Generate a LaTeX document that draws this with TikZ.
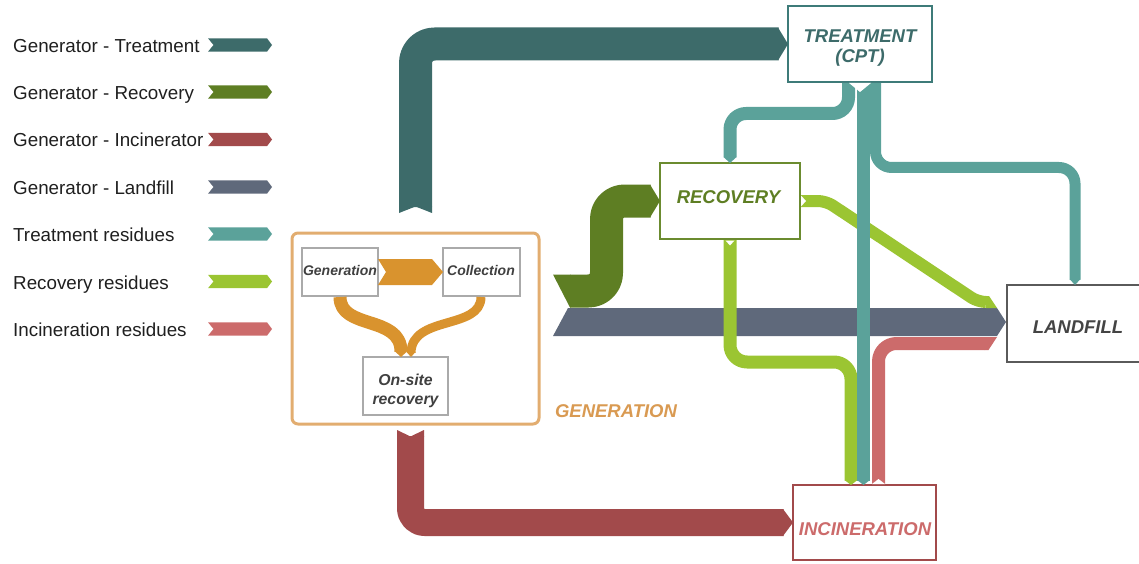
\documentclass[tikz,border=0pt]{standalone}
\usepackage{fontspec}
\setmainfont{Liberation Sans}
\definecolor{cGT}{HTML}{3D6B6A}
\definecolor{cGR}{HTML}{5E7E23}
\definecolor{cGI}{HTML}{A24A4B}
\definecolor{cGL}{HTML}{5F697B}
\definecolor{cTR}{HTML}{5BA29A}
\definecolor{cRR}{HTML}{9BC532}
\definecolor{cIR}{HTML}{CC6B6B}
\definecolor{cOR}{HTML}{D9932E}
\definecolor{cGenBox}{HTML}{E2AD70}
\definecolor{cGenTxt}{HTML}{D99A52}
\definecolor{cTreatBox}{HTML}{3E7B79}
\definecolor{cRecBox}{HTML}{6B8B2F}
\definecolor{cLandBox}{HTML}{5A5A5A}
\definecolor{cLandTxt}{HTML}{444444}
\definecolor{cGray}{HTML}{AAAAAA}
\definecolor{cDark}{HTML}{404040}
\tikzset{
  lgtext/.style={anchor=base west, font=\fontsize{18.8}{22}\selectfont, text=black!88, inner sep=0pt},
  bigbox/.style={draw, line width=2pt, fill=white, inner sep=0pt, outer sep=0pt},
  smallbox/.style={draw=cGray, line width=1.5pt, fill=white, inner sep=0pt, outer sep=0pt},
  boxlabel/.style={font=\fontsize{18.5}{20}\selectfont\bfseries\itshape, inner sep=0pt, align=center},
  smalllabel/.style={font=\fontsize{14}{16}\selectfont\bfseries\itshape, text=cDark, inner sep=0pt, anchor=base},
  band/.style={line cap=butt, line join=round},
}
\begin{document}
\begin{tikzpicture}[x=1pt,y=-1pt]
\useasboundingbox (0,0) rectangle (1139,564);

% legend
\foreach \yc/\col/\txt [count=\i] in {45/cGT/{Generator - Treatment}, 92/cGR/{Generator - Recovery}, 139.5/cGI/{Generator - Incinerator}, 187/cGL/{Generator - Landfill}, 234/cTR/{Treatment residues}, 281.5/cRR/{Recovery residues}, 329/cIR/{Incineration residues}}{
  \node[lgtext] (lgt\i) at (13,\yc+7.5) {\txt};
  \fill[\col] (208,\yc-6.7) -- (267,\yc-6.7) -- (272,\yc) -- (267,\yc+6.7) -- (208,\yc+6.7) -- (213.5,\yc) -- cycle;
}

% boxes
\node[bigbox, draw=cTreatBox, minimum width=144pt, minimum height=76pt] (treat) at (860,44) {};
\node[bigbox, draw=cRecBox, minimum width=140pt, minimum height=76pt] (rec) at (730,201) {};
\node[bigbox, draw=cLandBox, minimum width=142pt, minimum height=77pt] (land) at (1078,323.5) {};
\node[bigbox, draw=cGI, minimum width=143pt, minimum height=75pt] (inc) at (864.5,522.5) {};
\node[draw=cGenBox, line width=3pt, rounded corners=6pt, minimum width=247pt, minimum height=191pt, inner sep=0pt, outer sep=0pt] (genbox) at (415.5,328.5) {};
\node[smallbox, minimum width=76pt, minimum height=48pt] (genbx) at (340,272) {};
\node[smallbox, minimum width=77pt, minimum height=48pt] (colbx) at (481.5,272) {};
\node[smallbox, minimum width=85pt, minimum height=58pt] (onsite) at (405.5,386) {};

% Generator - Landfill
\fill[cGL] (553,336) -- (568,308) -- (997,308) -- (1006,322) -- (997,336) -- cycle;

% Generator - Treatment
\draw[band, cGT, line width=33pt, rounded corners=19pt] (415.5,207) -- (415.5,44) -- (778.5,44);
\fill[cGT] (778,27.5) -- (treat.west) -- (778,60.5) -- cycle;
\fill[cGT] (399,213) -- (415.5,206.5) -- (399,206.5) -- cycle;
\fill[cGT] (432,213) -- (415.5,206.5) -- (432,206.5) -- cycle;

% Generator - Recovery
\draw[band, cGR, line width=33pt, rounded corners=18pt] (570,291) -- (606.5,291) -- (606.5,201) -- (650.5,201);
\fill[cGR] (553,274.5) -- (570.5,274.5) -- (570.5,307.5) -- (570,307.5) -- cycle;
\fill[cGR] (650,184.5) -- (rec.west) -- (650,217.5) -- cycle;

% Generator - Incinerator
\draw[band, cGI, line width=27pt, rounded corners=14pt] (410.5,436) -- (410.5,522.5) -- (783.5,522.5);
\fill[cGI] (397,430) -- (410.5,436.5) -- (397,436.5) -- cycle;
\fill[cGI] (424,430) -- (410.5,436.5) -- (424,436.5) -- cycle;
\fill[cGI] (783,509) -- (inc.west) -- (783,536) -- cycle;

% Recovery residues
\draw[band, cRR, line width=13pt, rounded corners=17pt] (730,240) -- (730,362) -- (851,362) -- (851,480.5);
\fill[cRR] (844.5,480) -- (851,485) -- (857.5,480) -- cycle;
\draw[band, cRR, line width=12pt, rounded corners=8pt] (801,201) -- (826,201) -- (978,302) -- (986,302);
\fill[cRR] (985.5,296) -- (989,296) -- (997,308) -- (985.5,308) -- cycle;
\fill[white] (725.5,240.5) -- (734.5,240.5) -- (730,245.5) -- cycle;
\fill[white] (801,195.5) -- (806,201) -- (801,206.5) -- cycle;

% Incineration residues
\draw[band, cIR, line width=13pt, rounded corners=18pt] (878.5,484) -- (878.5,343.5) -- (985,343.5);
\fill[cIR] (984.5,337) -- (997,337) -- (988.5,350) -- (984.5,350) -- cycle;
\fill[white] (872,484) -- (885,484) -- (878.5,479) -- cycle;

% Treatment residues
\draw[band, cTR, line width=13pt, rounded corners=16pt] (848.5,83) -- (848.5,113.5) -- (730,113.5) -- (730,157.5);
\fill[cTR] (723.5,157) -- (rec.north) -- (736.5,157) -- cycle;
\draw[band, cTR, line width=13pt] (863.5,83) -- (863.5,480.5);
\fill[cTR] (857,480) -- (863.5,485) -- (870,480) -- cycle;
\draw[band, cTR, line width=11pt, rounded corners=16pt] (875.5,83) -- (875.5,167.5) -- (1075,167.5) -- (1075,279.5);
\fill[cTR] (1069.5,279) -- (1075,285) -- (1080.5,279) -- cycle;
\fill[white] (849,83) -- (871,83) -- (860,92) -- cycle;

% internal generation flows
\fill[cOR] (378,259) -- (432,259) -- (colbx.west) -- (432,285) -- (378,285) -- (386,272) -- cycle;
\draw[band, cOR, line width=13pt] (340,297) .. controls (340,330) and (401,315) .. (401,351.5);
\fill[cOR] (394.5,351) -- (401,357) -- (407.5,351) -- cycle;
\draw[band, cOR, line width=9pt] (481,297) .. controls (481,330) and (412,315) .. (411,352.5);
\fill[cOR] (406.5,352) -- (411,357) -- (415.5,352) -- cycle;

% labels
\node[boxlabel, text=cGT] (treatlbl) at (860,48.3) {TREATMENT\\(CPT)};
\node[boxlabel, text=cGR, anchor=base] (reclbl) at (728.5,203) {RECOVERY};
\node[boxlabel, text=cLandTxt, anchor=base] (landlbl) at (1078,333) {LANDFILL};
\node[boxlabel, text=cIR, anchor=base] (inclbl) at (865,535) {INCINERATION};
\node[boxlabel, text=cGenTxt, anchor=base] (genlbl) at (616,417) {GENERATION};
\node[smalllabel] (genlbl2) at (340,275.5) {Generation};
\node[smalllabel] (collbl) at (481,275.5) {Collection};
\node[font=\fontsize{15.8}{18.5}\selectfont\bfseries\itshape, text=cDark, align=center, inner sep=0pt] (onsitelbl) at (405.5,391) {On-site\\recovery};
\end{tikzpicture}
\end{document}
